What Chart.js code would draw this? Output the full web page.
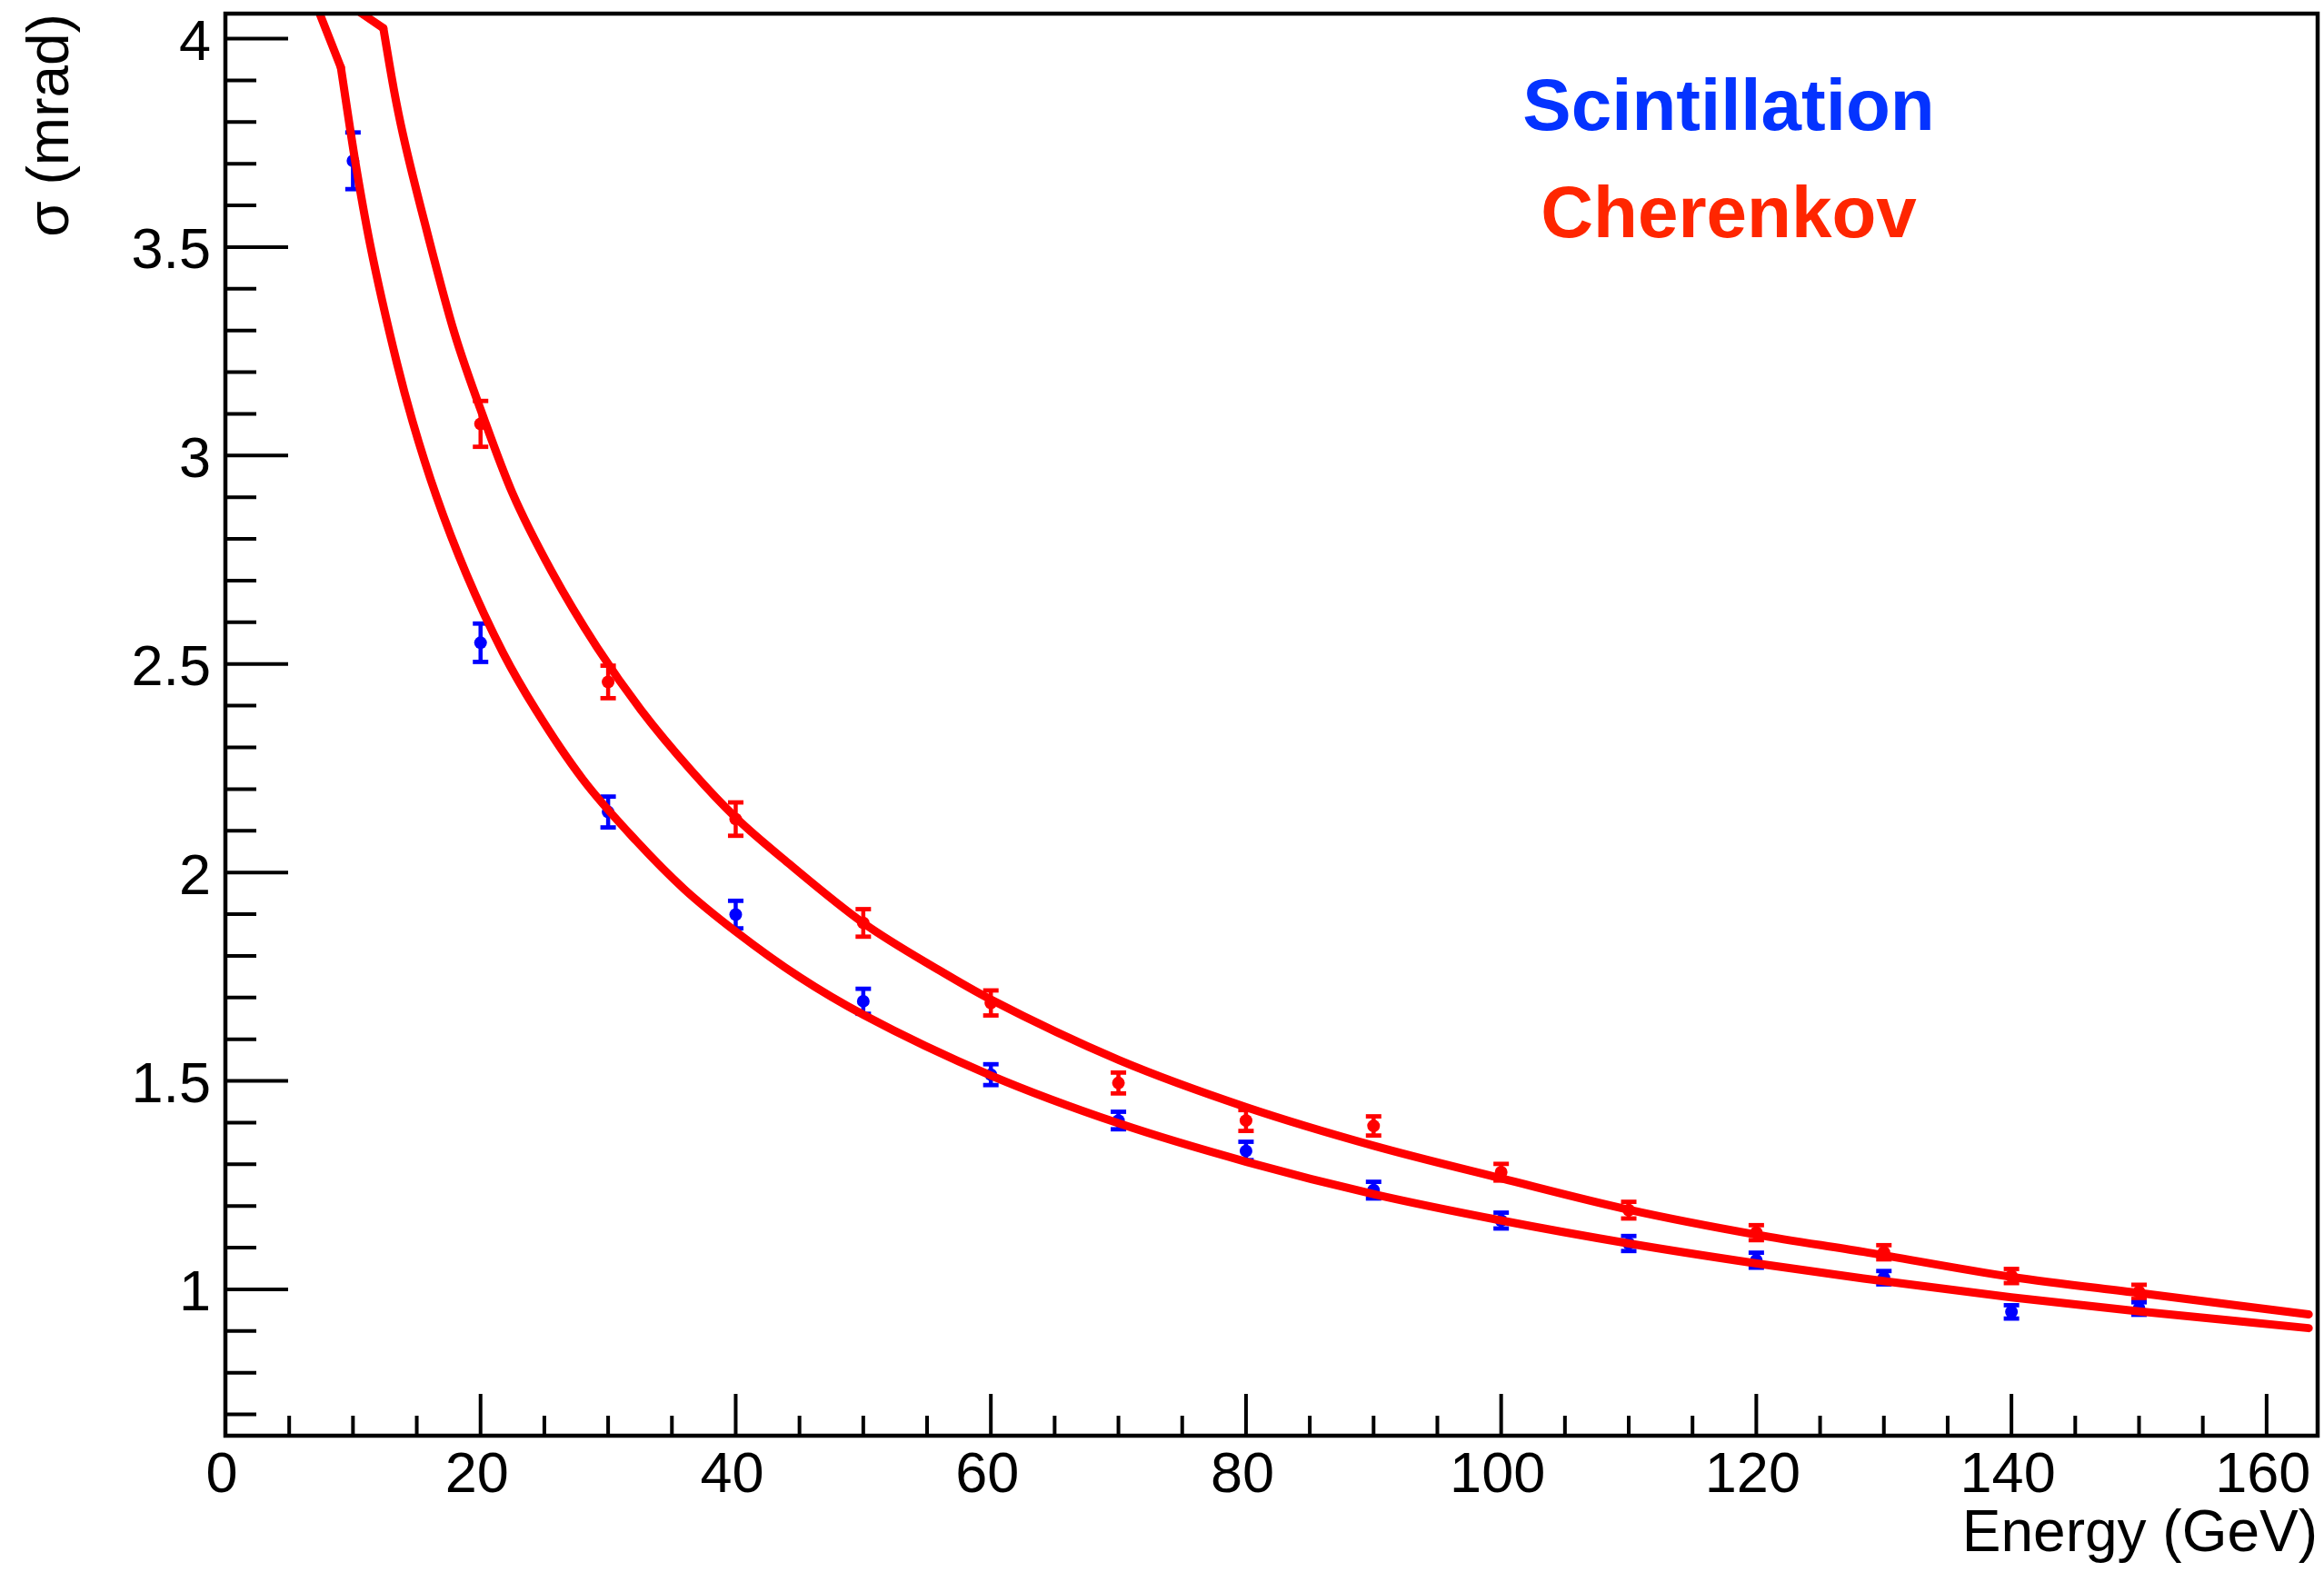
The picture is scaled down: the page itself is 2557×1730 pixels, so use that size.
<!DOCTYPE html>
<html>
<head>
<meta charset="utf-8">
<title>Energy resolution</title>
<script src="https://cdn.jsdelivr.net/npm/chart.js@4.4.1/dist/chart.umd.min.js"></script>
<style>
    body { margin: 0; background: #ffffff; }
    #grafico { display: block; }
</style>
</head>
<body>
<canvas id="grafico" width="2557" height="1730"></canvas>
<script>
// pontos medidos - Scintillation (azul)
const energiaScint = [10, 20, 30, 40, 50, 60, 70, 80, 90, 100, 110, 120, 130, 140, 150];
const sigmaScint = [3.707, 2.551, 2.145, 1.899, 1.691, 1.515, 1.405, 1.332, 1.238, 1.165, 1.110, 1.070, 1.028, 0.946, 0.954];
const erroScint = [0.068, 0.046, 0.037, 0.033, 0.030, 0.025, 0.021, 0.022, 0.020, 0.019, 0.018, 0.018, 0.016, 0.016, 0.015];

// pontos medidos - Cherenkov (vermelho)
const energiaCher = [20, 30, 40, 50, 60, 70, 80, 90, 100, 110, 120, 130, 140, 150];
const sigmaCher = [3.076, 2.457, 2.128, 1.879, 1.687, 1.495, 1.405, 1.392, 1.281, 1.190, 1.136, 1.089, 1.032, 0.994];
const erroCher = [0.055, 0.039, 0.040, 0.033, 0.030, 0.025, 0.025, 0.023, 0.020, 0.020, 0.018, 0.017, 0.017, 0.017];

// curvas de ajuste (trecho cortado no topo + curva)
const topoScintE = [6.9, 9.05];
const topoScintSigma = [4.098, 3.931];
const fitScintE = [9.05, 10.17, 11.36, 13.45, 14.68, 16.54, 18.91, 21.76, 24.33, 28.0, 32.2, 36.0, 40.06, 45.0, 50.04, 60.0, 70.04, 80.02, 90.07, 100.05, 110.03, 120.05, 128.4, 140, 150.05, 163.3];
const fitScintSigma = [3.931, 3.707, 3.504, 3.221, 3.081, 2.902, 2.714, 2.527, 2.390, 2.224, 2.076, 1.959, 1.857, 1.749, 1.658, 1.513, 1.398, 1.306, 1.228, 1.165, 1.110, 1.062, 1.026, 0.981, 0.947, 0.907];

const topoCherE = [9.9, 12.38];
const topoCherSigma = [4.077, 4.025];
const fitCherE = [12.38, 13.21, 13.92, 15.82, 17.96, 20.33, 22.47, 25.57, 29.13, 32.57, 36.5, 40.06, 44.1, 50.04, 55.97, 60.0, 70.04, 80.02, 90.07, 100.05, 110.03, 120.05, 128.4, 140, 150.05, 163.3];
const fitCherSigma = [4.025, 3.877, 3.770, 3.535, 3.293, 3.083, 2.912, 2.722, 2.540, 2.390, 2.245, 2.130, 2.023, 1.878, 1.765, 1.695, 1.550, 1.437, 1.344, 1.266, 1.191, 1.131, 1.090, 1.030, 0.991, 0.940];

// eixos
const xTicks = [0, 20, 40, 60, 80, 100, 120, 140, 160];
const yTicks = [1, 1.5, 2, 2.5, 3, 3.5, 4];
const xMin = 0, xMax = 164;
const yMin = 0.649, yMax = 4.06;

const fonte = '"Liberation Sans", Arial, Helvetica, sans-serif';

function pares(xs, ys) {
    let saida = [];
    for (let i = 0; i < xs.length; i++) {
        saida.push({ x: xs[i], y: ys[i] });
    }
    return saida;
}

function curva(nome, xs, ys, suave) {
    return {
        label: nome,
        data: pares(xs, ys),
        showLine: true,
        borderColor: '#ff0000',
        borderWidth: 9,
        borderCapStyle: 'round',
        pointRadius: 0,
        cubicInterpolationMode: suave ? 'monotone' : 'default',
        tension: 0,
        clip: 0,
        order: 0
    };
}

function pontos(nome, xs, ys, erros, cor) {
    return {
        label: nome,
        data: pares(xs, ys),
        erros: erros,
        backgroundColor: cor,
        borderWidth: 0,
        pointRadius: 7,
        order: 1
    };
}

// barras de erro desenhadas antes dos marcadores
const barrasErro = {
    id: 'barrasErro',
    beforeDatasetDraw(chart, args) {
        const ds = chart.data.datasets[args.index];
        if (!ds.erros) return;
        const ctx = chart.ctx;
        const xs = chart.scales.x, ys = chart.scales.y;
        ctx.save();
        ctx.strokeStyle = ds.backgroundColor;
        ctx.fillStyle = ds.backgroundColor;
        ctx.lineWidth = 4.5;
        for (let i = 0; i < ds.data.length; i++) {
            const p = ds.data[i];
            const px = xs.getPixelForValue(p.x);
            const yTop = ys.getPixelForValue(p.y + ds.erros[i]);
            const yBot = ys.getPixelForValue(p.y - ds.erros[i]);
            ctx.beginPath();
            ctx.moveTo(px, yTop);
            ctx.lineTo(px, yBot);
            ctx.stroke();
            ctx.fillRect(px - 8.5, yTop - 2.4, 17, 4.8);
            ctx.fillRect(px - 8.5, yBot - 2.4, 17, 4.8);
        }
        ctx.restore();
    }
};

// moldura e marcas internas no estilo ROOT
const moldura = {
    id: 'moldura',
    afterDraw(chart) {
        const ctx = chart.ctx;
        const a = chart.chartArea;
        const xs = chart.scales.x, ys = chart.scales.y;
        ctx.save();
        ctx.strokeStyle = '#000000';
        ctx.lineWidth = 4;
        ctx.beginPath();
        for (let v = 5; v <= xMax; v += 5) {
            const px = xs.getPixelForValue(v);
            const len = (v % 20 === 0) ? 46 : 22;
            ctx.moveTo(px, a.bottom);
            ctx.lineTo(px, a.bottom - len);
        }
        for (let k = 7; k <= 40; k++) {
            const v = k / 10;
            if (v < yMin || v > yMax) continue;
            const py = ys.getPixelForValue(v);
            const len = (k % 5 === 0) ? 69 : 34;
            ctx.moveTo(a.left, py);
            ctx.lineTo(a.left + len, py);
        }
        ctx.stroke();
        ctx.lineWidth = 4.5;
        ctx.strokeRect(a.left, a.top, a.right - a.left, a.bottom - a.top);

        // legenda em texto
        ctx.font = 'bold 80px ' + fonte;
        ctx.textAlign = 'center';
        ctx.textBaseline = 'alphabetic';
        ctx.fillStyle = '#0433ff';
        ctx.fillText('Scintillation', 1902, 143);
        ctx.fillStyle = '#ff2600';
        ctx.fillText('Cherenkov', 1902, 261);
        ctx.restore();
    }
};

const config = {
    type: 'scatter',
    data: {
        datasets: [
            curva('Fit Scintillation topo', topoScintE, topoScintSigma, false),
            curva('Fit Scintillation', fitScintE, fitScintSigma, true),
            curva('Fit Cherenkov topo', topoCherE, topoCherSigma, false),
            curva('Fit Cherenkov', fitCherE, fitCherSigma, true),
            pontos('Scintillation', energiaScint, sigmaScint, erroScint, '#0000ff'),
            pontos('Cherenkov', energiaCher, sigmaCher, erroCher, '#ff0000')
        ]
    },
    options: {
        responsive: false,
        animation: false,
        devicePixelRatio: 1,
        layout: { padding: { left: 0, top: 15, right: 7, bottom: 0 } },
        plugins: {
            legend: { display: false },
            tooltip: { enabled: false }
        },
        scales: {
            x: {
                type: 'linear',
                min: xMin,
                max: xMax,
                grid: { display: false, drawTicks: false },
                border: { display: false },
                afterBuildTicks: function (scale) {
                    scale.ticks = xTicks.map(v => ({ value: v }));
                },
                afterFit: function (scale) {
                    scale.height = 150;
                    scale.paddingLeft = 0;
                    scale.paddingRight = 0;
                },
                ticks: {
                    autoSkip: false,
                    maxRotation: 0,
                    padding: 7,
                    labelOffset: -4,
                    color: '#000000',
                    font: { family: fonte, size: 63 },
                    callback: v => String(v)
                },
                title: {
                    display: true,
                    text: 'Energy (GeV)',
                    align: 'end',
                    color: '#000000',
                    font: { family: fonte, size: 64 },
                    padding: { top: 0, bottom: 2 }
                }
            },
            y: {
                type: 'linear',
                min: yMin,
                max: yMax,
                grid: { display: false, drawTicks: false },
                border: { display: false },
                afterBuildTicks: function (scale) {
                    scale.ticks = yTicks.map(v => ({ value: v }));
                },
                afterFit: function (scale) {
                    scale.width = 248;
                    scale.paddingTop = 0;
                    scale.paddingBottom = 0;
                },
                ticks: {
                    autoSkip: false,
                    padding: 16,
                    labelOffset: 6,
                    color: '#000000',
                    font: { family: fonte, size: 63 },
                    callback: v => String(v)
                },
                title: {
                    display: true,
                    text: 'σ (mrad)',
                    align: 'end',
                    color: '#000000',
                    font: { family: fonte, size: 64 },
                    padding: { top: 19, bottom: 0 }
                }
            }
        }
    },
    plugins: [barrasErro, moldura]
};

let grafico = new Chart(document.getElementById('grafico'), config);
</script>
</body>
</html>
